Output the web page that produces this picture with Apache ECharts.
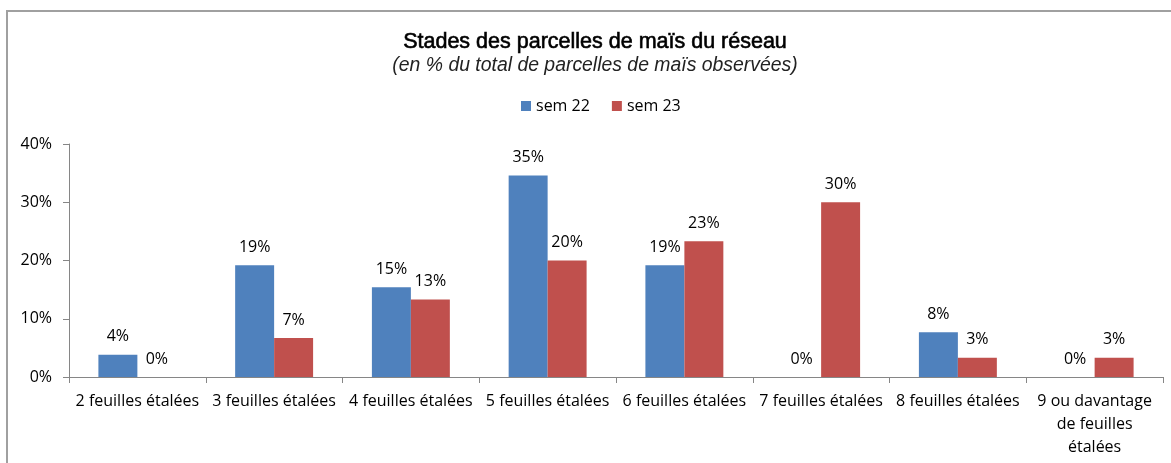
<!DOCTYPE html>
<html>
<head>
<meta charset="utf-8">
<script src="https://cdn.jsdelivr.net/npm/echarts@6/dist/echarts.min.js"></script>
<style>
html,body{margin:0;padding:0;background:#fff;}
#chart{width:1171px;height:463px;}
</style>
</head>
<body>
<div id="chart"></div>
<script>
const categories = [
  "2 feuilles étalées",
  "3 feuilles étalées",
  "4 feuilles étalées",
  "5 feuilles étalées",
  "6 feuilles étalées",
  "7 feuilles étalées",
  "8 feuilles étalées",
  "9 ou davantage\nde feuilles\nétalées"
];
const sem22 = [3.8, 19.2, 15.4, 34.6, 19.2, 0, 7.7, 0];
const sem23 = [0, 6.7, 13.3, 20.0, 23.3, 30.0, 3.3, 3.3];
const seriesNames = ["sem 22", "sem 23"];
const yTicks = [0, 10, 20, 30, 40];

const FONT = "'Open Sans', sans-serif";
const chart = echarts.init(document.getElementById('chart'), null, {renderer: 'canvas'});
const labelOpt = {
  show: true,
  position: 'top',
  distance: 10,
  color: '#000',
  fontFamily: FONT,
  fontSize: 16,
  formatter: p => Math.round(p.value) + '%'
};
chart.setOption({
  animation: false,
  backgroundColor: '#fff',
  graphic: [{
    type: 'rect',
    shape: {x: 7, y: 11, width: 1200, height: 500},
    style: {fill: 'none', stroke: '#a0a0a0', lineWidth: 2},
    silent: true,
    z: -1
  }],
  title: [{
    text: 'Stades des parcelles de maïs du réseau',
    left: 595, top: 31, padding: 0, textAlign: 'center',
    textStyle: {fontFamily: "'Liberation Sans', Arial, sans-serif", fontSize: 21.5, fontWeight: 'normal', color: '#000', textBorderColor: '#000', textBorderWidth: 0.6}
  }, {
    text: '(en % du total de parcelles de maïs observées)',
    left: 595, top: 56, padding: 0, textAlign: 'center',
    textStyle: {fontFamily: "'Liberation Sans', Arial, sans-serif", fontSize: 19.4, fontStyle: 'italic', fontWeight: 'normal', color: '#222'}
  }],
  legend: {
    data: seriesNames,
    left: 521, top: 98, padding: 0,
    itemWidth: 10, itemHeight: 10, itemGap: 22,
    icon: 'rect',
    textStyle: {fontFamily: FONT, fontSize: 16, color: '#000'}
  },
  grid: {left: 69, right: 8, top: 144, bottom: 86, containLabel: false},
  xAxis: {
    type: 'category',
    data: categories,
    axisLine: {lineStyle: {color: '#868686', width: 1}},
    axisTick: {show: true, length: 6, lineStyle: {color: '#868686'}},
    axisLabel: {interval: 0, margin: 13, color: '#000', fontFamily: FONT, fontSize: 16, lineHeight: 23}
  },
  yAxis: {
    type: 'value',
    min: yTicks[0], max: yTicks[yTicks.length - 1], interval: 10,
    splitLine: {show: false},
    axisLine: {show: true, lineStyle: {color: '#868686', width: 1}},
    axisTick: {show: true, length: 6, lineStyle: {color: '#868686'}},
    axisLabel: {margin: 17, color: '#000', fontFamily: FONT, fontSize: 16, formatter: '{value}%'}
  },
  series: [{
    name: seriesNames[0], type: 'bar', data: sem22,
    barGap: '0%', barCategoryGap: '43%',
    itemStyle: {color: '#4F81BD'},
    label: labelOpt
  }, {
    name: seriesNames[1], type: 'bar', data: sem23,
    barGap: '0%', barCategoryGap: '43%',
    itemStyle: {color: '#C0504D'},
    label: labelOpt
  }]
});
</script>
</body>
</html>
